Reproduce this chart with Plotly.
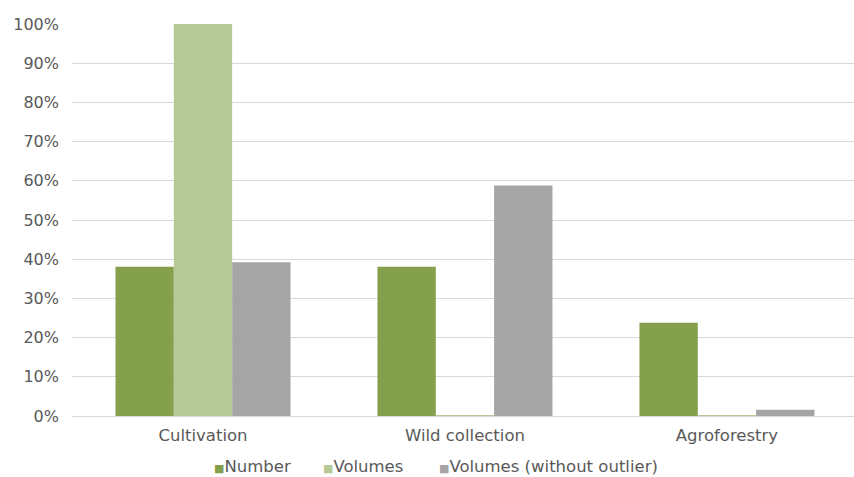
import plotly.graph_objects as go

categories = ["Cultivation", "Wild collection", "Agroforestry"]
number = [0.381, 0.381, 0.238]
volumes = [1.0, 0.002, 0.002]
volumes_no_outlier = [0.392, 0.588, 0.016]

series = [
    ("Number", number, "#84A04D"),
    ("Volumes", volumes, "#B8C998"),
    ("Volumes (without outlier)", volumes_no_outlier, "#A5A5A5"),
]

font_family = "DejaVu Sans, Verdana, sans-serif"
text_color = "#595959"

fig = go.Figure()
for name, vals, color in series:
    fig.add_trace(go.Bar(
        x=categories, y=vals, name=name,
        marker=dict(color=color, line=dict(width=0)),
        showlegend=False,
    ))

# Legend row: small colour square followed directly by the series name
legend_x = [0.179, 0.319, 0.467]
for (name, _, color), lx in zip(series, legend_x):
    fig.add_annotation(
        xref="paper", yref="paper", x=lx, y=-0.128,
        xanchor="left", yanchor="middle", showarrow=False,
        text=f"<span style='color:{color};font-size:11px'>■</span>{name}",
        font=dict(family=font_family, size=16.5, color=text_color),
    )

fig.update_layout(
    width=854, height=477,
    margin=dict(l=72, r=0, t=24, b=61, autoexpand=False),
    paper_bgcolor="white", plot_bgcolor="white",
    barmode="group", bargap=0.332, bargroupgap=0,
    font=dict(family=font_family, size=16, color=text_color),
    showlegend=False,
    xaxis=dict(
        range=[-0.5, 2.485],
        showline=True, linecolor="#D9D9D9", linewidth=1,
        showgrid=False, ticks="",
        tickfont=dict(size=16.5, color=text_color),
        ticklabelstandoff=4,
    ),
    yaxis=dict(
        range=[0, 1.0], dtick=0.1, tickformat=".0%",
        showgrid=True, gridcolor="#D9D9D9", gridwidth=1,
        zeroline=False, showline=False, ticks="",
        tickfont=dict(size=16, color=text_color),
        ticklabelstandoff=12,
    ),
)

fig.write_html("out.html")
